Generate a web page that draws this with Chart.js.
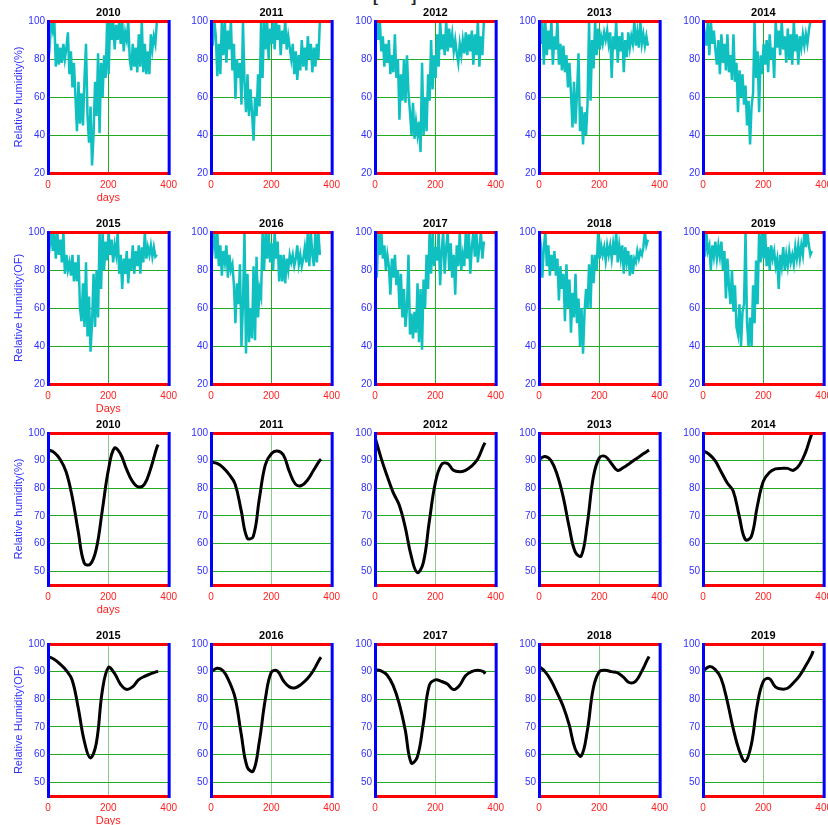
<!DOCTYPE html>
<html>
<head>
<meta charset="utf-8">
<script src="https://cdn.jsdelivr.net/npm/chart.js@4.4.0/dist/chart.umd.min.js"></script>
<style>
  body { margin: 0; width: 828px; height: 825px; overflow: hidden; background: #fff; position: relative; }
  canvas { position: absolute; }
  #sup { position: absolute; left: 373px; top: -12px; font: bold 15px "Liberation Sans", Arial, sans-serif; color: #222; white-space: pre; }
</style>
</head>
<body>
<div id="sup">[        ]</div>
<script>
// years of the panels (columns), raw rows and smoothed rows use the same years
const years = [2010, 2011, 2012, 2013, 2014, 2015, 2016, 2017, 2018, 2019];

// daily relative humidity, read every 5 days (day 1, 6, 11 ... 361)
const days = Array.from({ length: 73 }, (_, i) => 1 + i * 5);
const rh2010 = [93,88,100,95,100,76,88,77,86,78, 88,80,86,94,72,84,65,78,60,42, 68,46,62,45,70,88,50,36,55,24,
  40,68,50,83,41,78,60,82,70,100, 72,100,90,100,85,98,90,100,88,100, 84,94,90,100,80,74,88,76,86,73,
  93,76,100,73,88,72,84,72,93,85, 92,88,100];
const rh2011 = [100,87,100,92,71,88,72,100,82,100, 78,95,85,100,74,88,59,80,70,78, 56,100,68,52,72,50,64,52,37,60,
  50,72,55,100,70,100,85,100,80,96, 88,100,85,100,90,98,82,95,88,100, 85,92,86,80,88,72,84,69,82,74,
  90,76,86,74,92,80,88,73,86,76, 88,80,100];
const rh2012 = [87,100,90,100,84,92,76,88,78,90, 72,82,73,93,70,80,48,72,58,80, 57,82,62,52,40,57,38,47,40,47,
  31,78,40,60,42,72,58,90,64,82, 70,93,76,100,85,93,82,100,84,96, 86,93,84,90,83,78,88,82,90,83,
  94,82,93,84,95,77,93,82,100,76, 92,82,100];
const rh2013 = [100,88,100,77,100,82,95,85,100,77, 92,85,100,77,88,74,87,73,82,65, 78,62,44,68,46,62,83,42,55,35,
  52,40,57,100,58,90,75,100,82,96, 85,92,88,94,90,95,88,94,70,92, 85,100,78,92,84,94,73,90,81,94,
  86,92,88,100,87,94,86,100,88,93, 87,92,87];
const rh2014 = [87,93,87,100,82,100,88,95,85,77, 90,72,93,78,88,74,93,73,82,69, 93,68,78,52,74,60,72,56,66,45,
  58,35,55,62,100,70,84,52,82,72, 88,77,90,73,93,80,86,70,100,86, 95,82,100,85,92,78,96,80,93,77,
  100,84,93,77,92,86,93,87,93,88, 95,100,100];
const rh2015 = [100,93,100,90,100,86,100,88,96,84, 100,78,88,80,84,77,88,74,84,74, 88,60,53,73,50,84,45,66,37,52,
  78,50,80,55,100,70,100,80,95,85, 100,88,96,84,93,88,100,78,88,70, 86,78,90,73,86,80,93,78,90,82,
  93,78,92,84,100,86,92,88,93,87, 92,87,88];
const rh2016 = [82,93,100,86,100,82,93,77,90,84, 93,76,88,80,83,72,52,73,62,83, 40,62,100,36,78,42,60,44,82,43,
  87,55,70,66,100,80,100,86,100,84, 94,80,100,86,95,74,88,74,88,73, 86,80,88,84,88,82,86,93,83,88,
  82,86,92,84,100,82,100,88,82,100, 84,100,88];
const rh2017 = [87,76,100,88,100,86,93,80,88,82, 67,86,76,88,72,80,60,78,55,70, 50,60,88,46,57,44,58,47,73,42,
  70,38,75,60,88,70,100,78,100,82, 92,85,100,72,90,100,78,92,100,80, 94,76,88,67,93,82,100,80,88,82,
  100,86,100,78,92,100,87,100,84,92, 100,86,95];
const rh2018 = [100,93,76,92,100,82,93,77,88,80, 90,77,86,64,82,70,78,53,83,60, 75,47,68,55,78,52,65,40,60,36,
  58,70,60,83,60,88,73,88,80,100, 86,93,88,92,85,93,88,93,86,94, 88,100,84,93,86,93,78,92,84,90,
  77,88,78,86,84,90,86,90,88,92, 100,93,96];
const rh2019 = [100,87,100,90,93,80,93,87,95,86, 93,87,95,80,90,65,86,72,62,80, 58,72,50,46,62,40,58,62,100,52,
  40,55,40,72,52,85,62,100,84,100, 86,100,82,92,80,93,86,90,82,86, 70,88,82,92,80,88,82,90,84,88,
  83,92,86,93,86,93,88,100,92,100, 93,88,90];

// smoothed curves, read every 20 days
const smoothDays = [0, 20, 40, 60, 80, 100, 120, 140, 160, 180, 200, 220, 240, 260, 280, 300, 320, 340, 360, 365];
const fit2010 = [94, 93, 90.5, 86, 77, 64.5, 53, 52.5, 58, 72, 86.5, 94.5, 92.5, 87, 82.5, 80.5, 81.5, 87, 94.5, 95.8];
const fit2011 = [89.5, 89, 87.5, 85, 81.5, 72, 62, 62.5, 76, 88.5, 92.5, 93.5, 92, 86, 81.5, 81, 83, 86.5, 90, 90.5];
const fit2012 = [98.5, 91, 84.5, 78.5, 74, 66, 55.5, 49.5, 53, 68, 82, 88.5, 89, 86.5, 86, 86.5, 88, 90.5, 95.5, 96.5];
const fit2013 = [90.5, 91.5, 90, 85, 77, 66, 57, 55.5, 67, 84, 91, 91.5, 89, 86.5, 87.5, 89, 90.5, 92, 93.5, 93.8];
const fit2014 = [93.6, 92.3, 90, 86, 82, 79, 70, 61.5, 62.5, 73.5, 82.5, 85.7, 87, 87.2, 87.2, 86.5, 88.5, 93, 99.5, 100];
const fit2015 = [95.5, 94.5, 92.7, 90.5, 87, 77, 65, 58.8, 64, 83, 91.5, 89.5, 85.5, 83.6, 84.5, 87, 88.3, 89.2, 90, 90.1];
const fit2016 = [89.8, 91.2, 90.3, 86.5, 80.5, 67.5, 55.5, 54, 64.5, 80, 89.8, 90.2, 86.7, 84.5, 84.2, 85.5, 87.5, 90.5, 94.5, 95.2];
const fit2017 = [90.7, 90.3, 88.8, 85, 78.5, 69, 57, 59, 71, 85, 87, 86.5, 85.5, 83.5, 85, 88.5, 90, 90.5, 90, 89.2];
const fit2018 = [91.9, 90, 86.8, 82.3, 77.5, 70.8, 62, 59.5, 68.5, 84, 90, 90.5, 90, 89.6, 88, 86, 86.5, 90, 94.5, 95.5];
const fit2019 = [90.1, 91.8, 90.8, 87.5, 79.5, 69.5, 61.5, 57.5, 63.5, 78, 86.5, 87.5, 84.5, 83.7, 84, 86, 88.5, 92, 96, 97.5];

// tick labels
const xTicks = [0, 200, 400];
const yTicksRaw = [20, 40, 60, 80, 100];
const yTicksFit = [50, 60, 70, 80, 90, 100];

const rawSeries = [rh2010, rh2011, rh2012, rh2013, rh2014, rh2015, rh2016, rh2017, rh2018, rh2019];
const fitSeries = [fit2010, fit2011, fit2012, fit2013, fit2014, fit2015, fit2016, fit2017, fit2018, fit2019];
const xTitles = ['days', 'Days', 'days', 'Days'];
const yTitles = ['Relative humidity(%)', 'Relative Humidity(OF)', 'Relative humidity(%)', 'Relative Humidity(OF)'];

// layout of the 4 x 5 grid
const colLeft = [48, 211, 375, 539, 703];
const rowTop = [21, 232, 433, 644];
const plotW = 123, plotH = 152;
const padL = 48, padT = 19, padR = 12, padB = 32;

const FONT = '"Liberation Sans", Arial, sans-serif';
const RED = '#ff2020', BLUE = '#3030ff', GREEN = '#22aa22';

// thick red/blue frame round every plot, plus the year above it
const frame = {
    id: 'frame',
    afterDraw(chart, args, opts) {
        const { ctx, chartArea: { left, top, right, bottom } } = chart;
        ctx.save();
        ctx.fillStyle = '#ff0000';
        ctx.fillRect(left, top - 1, right - left, 3);
        ctx.fillRect(left, bottom - 1, right - left, 3);
        ctx.fillStyle = '#0000ff';
        ctx.fillRect(left - 1, top - 1, 3, bottom - top + 3);
        ctx.fillRect(right - 1, top - 1, 3, bottom - top + 3);
        ctx.fillStyle = '#000';
        ctx.font = 'bold 11px ' + FONT;
        ctx.textAlign = 'center';
        ctx.textBaseline = 'middle';
        ctx.fillText(opts.text, (left + right) / 2, top - 8.5);
        ctx.restore();
    }
};

function makePanel(row, col) {
    const idx = (row % 2) * 5 + col;
    const smooth = row >= 2;
    const xs = smooth ? smoothDays : days;
    const ys = smooth ? fitSeries[idx] : rawSeries[idx];
    const yTicks = smooth ? yTicksFit : yTicksRaw;

    const canvas = document.createElement('canvas');
    const w = padL + plotW + padR, h = padT + plotH + padB;
    canvas.width = w; canvas.height = h;
    canvas.style.width = w + 'px'; canvas.style.height = h + 'px';
    canvas.style.left = (colLeft[col] - padL) + 'px';
    canvas.style.top = (rowTop[row] - padT) + 'px';
    document.body.appendChild(canvas);

    new Chart(canvas, {
        type: 'line',
        data: {
            datasets: [{
                data: xs.map((d, i) => ({ x: d, y: ys[i] })),
                borderColor: smooth ? '#000000' : '#10c0c0',
                borderWidth: smooth ? 3 : 2.5,
                pointRadius: 0,
                tension: smooth ? 0.4 : 0,
                fill: false
            }]
        },
        options: {
            responsive: false,
            animation: false,
            devicePixelRatio: 1,
            layout: { padding: { top: padT, right: padR, bottom: 0, left: 0 } },
            plugins: {
                legend: { display: false },
                tooltip: { enabled: false },
                title: { display: false },
                frame: { text: String(years[idx]) }
            },
            scales: {
                x: {
                    type: 'linear',
                    min: 0, max: 400,
                    afterBuildTicks: s => { s.ticks = xTicks.map(v => ({ value: v })); },
                    afterFit: s => { s.height = padB; },
                    ticks: { color: RED, font: { family: FONT, size: 10 }, padding: 6, maxRotation: 0, autoSkip: false },
                    grid: {
                        drawTicks: false,
                        lineWidth: 1,
                        color: smooth ? 'rgba(34,170,34,0.55)' : GREEN
                    },
                    border: { display: false },
                    title: {
                        display: col === 0,
                        text: xTitles[row],
                        color: RED,
                        font: { family: FONT, size: 11 },
                        padding: { top: 0, bottom: 0 }
                    }
                },
                y: {
                    min: smooth ? 45 : 20, max: 100,
                    afterBuildTicks: s => { s.ticks = yTicks.map(v => ({ value: v })); },
                    afterFit: s => { s.width = padL; },
                    ticks: { color: BLUE, font: { family: FONT, size: 10 }, padding: 3 },
                    grid: { drawTicks: false, lineWidth: 1, color: GREEN },
                    border: { display: false },
                    title: {
                        display: col === 0,
                        text: yTitles[row],
                        color: BLUE,
                        font: { family: FONT, size: 11 },
                        padding: { top: 12, bottom: 0 }
                    }
                }
            }
        },
        plugins: [frame]
    });
}

for (let r = 0; r < 4; r++) {
    for (let c = 0; c < 5; c++) {
        makePanel(r, c);
    }
}
</script>
</body>
</html>
